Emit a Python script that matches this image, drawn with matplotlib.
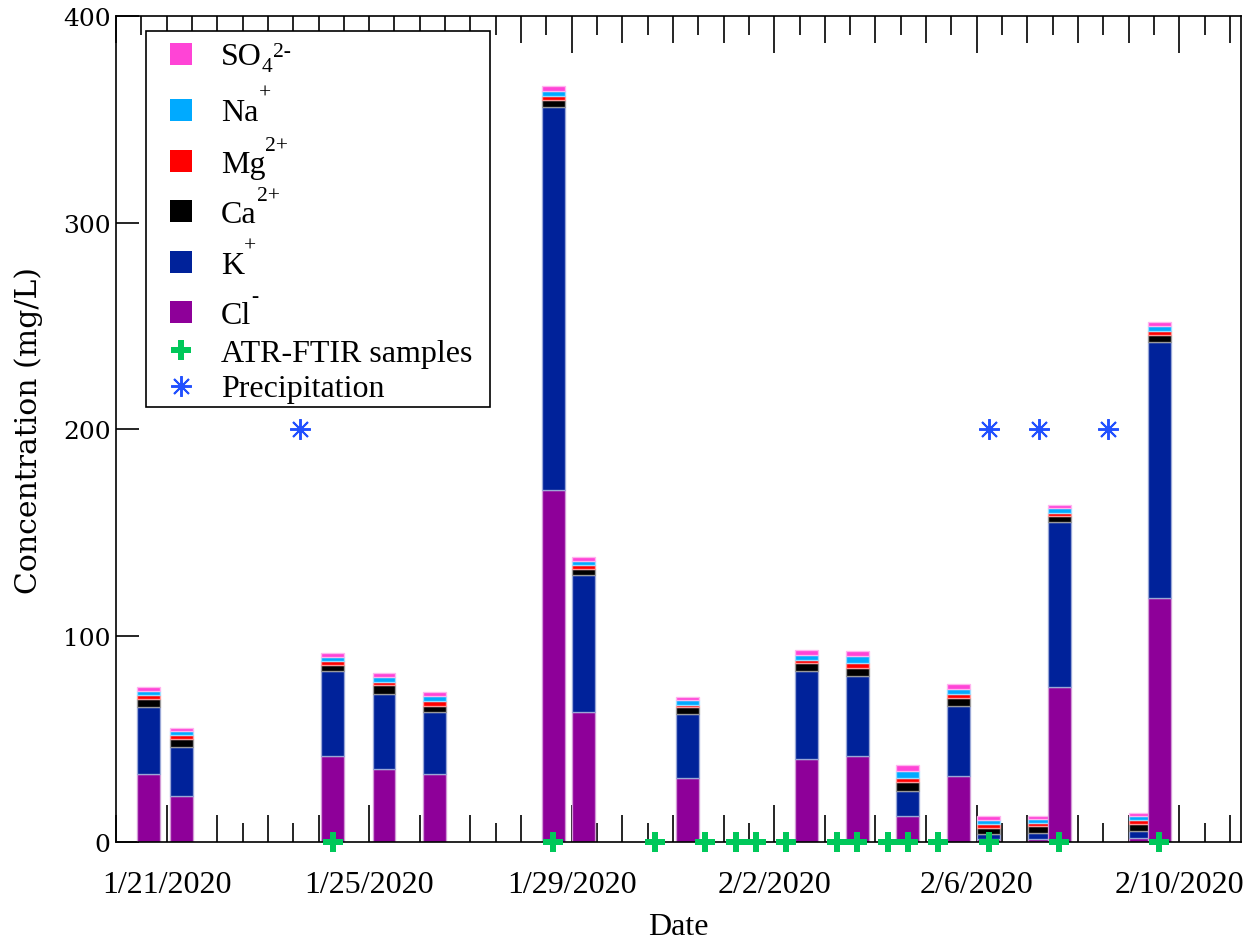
import numpy as np
import pandas as pd
import matplotlib
matplotlib.use("Agg")
import matplotlib.pyplot as plt
import matplotlib.dates as mdates
from matplotlib.lines import Line2D
from matplotlib.patches import Rectangle
from matplotlib.ticker import FixedLocator, FuncFormatter
from matplotlib.colors import to_rgb

plt.rcParams["font.family"] = ["Liberation Serif", "DejaVu Serif"]

# ---- sample collection times ----
sample_times = [
    "2020-01-20 15:20", "2020-01-21 07:00", "2020-01-24 06:45", "2020-01-25 07:00",
    "2020-01-26 07:00", "2020-01-28 15:20", "2020-01-29 05:45", "2020-01-31 06:45",
    "2020-02-02 15:20", "2020-02-03 15:20", "2020-02-04 15:20", "2020-02-05 15:20",
    "2020-02-06 05:45", "2020-02-07 05:45", "2020-02-07 15:10", "2020-02-09 05:45",
    "2020-02-09 14:30",
]

# ---- ion concentrations (mg/L) ----
cl = [32.9, 22.6, 41.9, 35.6, 33.1, 170.5, 63.2, 31.0, 40.3, 41.9, 12.9, 32.2, 1.5, 1.5, 75.0, 2.0, 118.3]
k = [32.8, 23.5, 41.2, 36.2, 30.1, 185.5, 66.2, 31.1, 42.8, 38.4, 12.1, 33.9, 2.5, 3.0, 80.2, 3.5, 124.0]
ca = [3.5, 3.8, 2.6, 4.2, 3.0, 3.4, 3.0, 3.2, 3.5, 4.2, 4.0, 3.6, 3.0, 3.2, 3.0, 3.4, 3.2]
mg = [2.0, 1.9, 2.0, 1.8, 2.2, 2.1, 2.0, 1.4, 1.8, 2.1, 2.3, 2.2, 1.8, 1.6, 1.4, 1.7, 2.0]
na = [2.0, 1.9, 1.9, 2.2, 2.3, 2.2, 2.0, 2.2, 2.4, 3.5, 3.3, 2.4, 2.0, 1.8, 2.1, 2.0, 2.2]
so4 = [2.0, 1.7, 1.9, 1.8, 2.2, 2.2, 1.6, 1.6, 2.4, 2.5, 3.0, 2.2, 1.8, 1.5, 1.6, 1.6, 2.0]

# ---- ATR-FTIR sampling times and precipitation events ----
atr_times = [
    "2020-01-24 06:45", "2020-01-28 15:20", "2020-01-30 15:20", "2020-01-31 15:20",
    "2020-02-01 05:45", "2020-02-01 15:20", "2020-02-02 05:45", "2020-02-03 05:45",
    "2020-02-03 15:20", "2020-02-04 05:45", "2020-02-04 15:20", "2020-02-05 05:45",
    "2020-02-06 05:45", "2020-02-07 15:10", "2020-02-09 14:30",
]
atr_values = [0] * len(atr_times)
precip_times = ["2020-01-23 15:20", "2020-02-06 05:45", "2020-02-07 05:45", "2020-02-08 14:10"]
precip_values = [200, 200, 200, 200]

# legend entries: (base, subscript, superscript), top to bottom
legend_ions = [("SO", "4", "2-"), ("Na", "", "+"), ("Mg", "", "2+"),
               ("Ca", "", "2+"), ("K", "", "+"), ("Cl", "", "-")]
ion_colors = ["#8E0099", "#00229A", "#000000", "#FF0000", "#00AAFF", "#FF44D6"]  # Cl .. SO4
green = "#00C85A"
precip_blue = "#2251FF"

W, H = 1254, 945


def tint(c, f=0.5):
    r, g, b = to_rgb(c)
    return (r + (1 - r) * f, g + (1 - g) * f, b + (1 - b) * f)


def fxy(xp, yp):
    """pixel position measured from the top-left corner -> figure fraction"""
    return xp / W, 1 - yp / H


fig = plt.figure(figsize=(W / 100, H / 100), dpi=100)
ax = fig.add_axes([0.0925, 0.1076, 0.8971, 0.8744])

x = mdates.date2num(pd.to_datetime(sample_times))
series = [cl, k, ca, mg, na, so4]
width = 0.45

# each sample is drawn as one stack so later stacks sit on top of earlier ones
for i, xi in enumerate(x):
    bottom = 0.0
    for vals, col in zip(series, ion_colors):
        ax.bar(xi, vals[i], width=width, bottom=bottom, color=col,
               edgecolor=tint(col, 0.6), linewidth=0.95, zorder=2 + i * 0.01)
        bottom += vals[i]

xa = mdates.date2num(pd.to_datetime(atr_times))
ax.plot(xa, atr_values, linestyle="none", marker="P", markersize=15,
        color=green, markeredgewidth=0, clip_on=False, zorder=5)
xp = mdates.date2num(pd.to_datetime(precip_times))
ax.plot(xp, precip_values, linestyle="none", marker=(8, 2, 0), markersize=15,
        markeredgewidth=1.4, color=precip_blue, zorder=5)

# ---- axes ----
x0 = mdates.date2num(pd.Timestamp("2020-01-20 00:00"))
x1 = mdates.date2num(pd.Timestamp("2020-02-11 05:15"))
ax.set_xlim(x0, x1)
ax.set_ylim(0, 400)
ax.set_axisbelow(True)

days = pd.date_range("2020-01-20", "2020-02-11", freq="D")
day_locs = mdates.date2num(days)
half_locs = day_locs[:-1] + 0.5
label_days = pd.date_range("2020-01-21", "2020-02-10", freq="4D")
label_map = {round(float(mdates.date2num(d)), 3): f"{d.month}/{d.day}/{d.year}" for d in label_days}

ax.xaxis.set_major_locator(FixedLocator(day_locs))
ax.xaxis.set_minor_locator(FixedLocator(half_locs))
ax.xaxis.set_major_formatter(FuncFormatter(lambda v, p: label_map.get(round(float(v), 3), "")))
ax.tick_params(axis="x", which="major", direction="in", length=19.5, width=1.2,
               top=True, bottom=True, labelsize=23, pad=20)
ax.tick_params(axis="x", which="minor", direction="in", length=13.5, width=1.2,
               top=True, bottom=True)
for tick, loc in zip(ax.xaxis.get_major_ticks(), day_locs):
    if round(float(loc), 3) in label_map:
        tick.tick1line.set_markersize(26.5)
        tick.tick2line.set_markersize(26.5)

ax.set_yticks([0, 100, 200, 300, 400])
ax.tick_params(axis="y", direction="in", length=16.5, width=1.2, left=True, right=False,
               labelsize=18, pad=4)
for lab in ax.get_yticklabels():
    lab.set_fontfamily("DejaVu Serif")

for sp in ax.spines.values():
    sp.set_linewidth(1.2)

ax.set_xlabel("Date", fontsize=23, labelpad=9)
ax.set_ylabel("Concentration (mg/L)", fontsize=21.5, labelpad=14, family="DejaVu Serif")

# ---- legend box ----
lx0, ly0 = fxy(146, 408)
lx1, ly1 = fxy(490, 32)
fig.add_artist(Rectangle((lx0, ly0), lx1 - lx0, ly1 - ly0, transform=fig.transFigure,
                         facecolor="white", edgecolor="black", linewidth=1.2, zorder=10))

renderer = fig.canvas.get_renderer()
handle_x = 181
text_x = 221
legend_size = 23
ion_baselines = [65, 121, 173, 223, 274, 324]
ion_centers = [55, 111, 162, 212, 263, 313]
for (base, sub, sup), col, yb, yc in zip(legend_ions, ion_colors[::-1], ion_baselines, ion_centers):
    hx, hy = fxy(handle_x, yc)
    fig.add_artist(Line2D([hx], [hy], transform=fig.transFigure, linestyle="none",
                          marker="s", markersize=15.5, color=col, markeredgewidth=0, zorder=11))
    tx, ty = fxy(text_x, yb)
    t = fig.text(tx, ty, base, fontsize=legend_size, va="baseline", ha="left", zorder=11)
    xe = t.get_window_extent(renderer).x1
    if sub:
        s = fig.text(xe / W, 1 - (yb + 7) / H, sub, fontsize=15.5, va="baseline", ha="left", zorder=11)
        xe_sup = s.get_window_extent(renderer).x1
        fig.text(xe_sup / W, 1 - (yb - 8) / H, sup, fontsize=15.5, va="baseline", ha="left", zorder=11)
    else:
        fig.text(xe / W, 1 - (yb - 22) / H, sup, fontsize=15.5, va="baseline", ha="left", zorder=11)

hx, hy = fxy(handle_x, 351)
fig.add_artist(Line2D([hx], [hy], transform=fig.transFigure, linestyle="none", marker="P",
                      markersize=15, color=green, markeredgewidth=0, zorder=11))
tx, ty = fxy(text_x, 362)
fig.text(tx, ty, "ATR-FTIR samples", fontsize=legend_size, va="baseline", ha="left", zorder=11)

hx, hy = fxy(handle_x, 387)
fig.add_artist(Line2D([hx], [hy], transform=fig.transFigure, linestyle="none", marker=(8, 2, 0),
                      markersize=15, markeredgewidth=1.4, color=precip_blue, zorder=11))
tx, ty = fxy(text_x, 397)
fig.text(tx, ty, "Precipitation", fontsize=legend_size, va="baseline", ha="left", zorder=11)

fig.savefig("out.png", dpi=100)
